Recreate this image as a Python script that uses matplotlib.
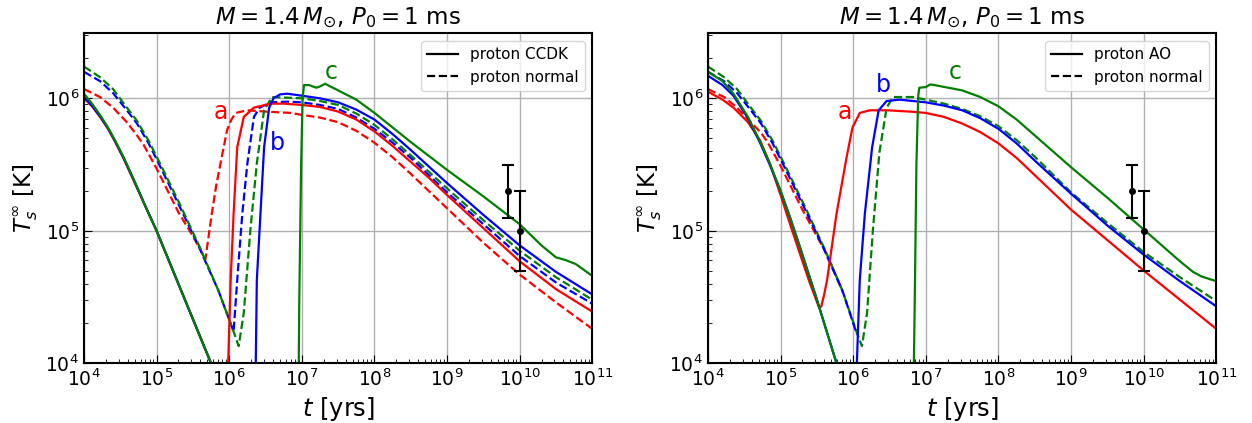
import numpy as np
import matplotlib
matplotlib.use('Agg')
import matplotlib.pyplot as plt
from matplotlib.lines import Line2D

# values, stored as log10(t [yr]) and log10(T [K])

# ---- left panel: proton CCDK (solid) ----
l_red_sol_t = [4.0, 4.11, 4.22, 4.33, 4.43, 4.55, 4.7, 4.85, 5.0, 5.3, 5.6, 5.75, 5.85,
               5.975, 5.985, 6.02, 6.06, 6.11, 6.2, 6.34, 6.57, 6.75,
               7.0, 7.25, 7.5, 7.75, 8.0, 8.25, 8.5, 8.75, 9.0, 9.5, 10.0, 10.5, 11.0]
l_red_sol_T = [6.0, 5.94, 5.86, 5.77, 5.67, 5.54, 5.36, 5.18, 5.0, 4.6, 4.2, 4.0, 3.87,
               3.87, 4.0, 4.63, 5.13, 5.63, 5.86, 5.93, 5.96, 5.96,
               5.95, 5.935, 5.90, 5.84, 5.75, 5.64, 5.52, 5.40, 5.27, 5.02, 4.77, 4.56, 4.39]
l_blue_sol_t = [4.0, 4.11, 4.22, 4.33, 4.43, 4.55, 4.7, 4.85, 5.0, 5.3, 5.6, 5.75, 5.85,
                6.355, 6.365, 6.38, 6.43, 6.48, 6.55, 6.61, 6.7, 6.8,
                7.0, 7.25, 7.5, 7.75, 8.0, 8.25, 8.5, 8.75, 9.0, 9.5, 10.0, 10.5, 11.0]
l_blue_sol_T = [6.01, 5.945, 5.865, 5.775, 5.675, 5.545, 5.365, 5.18, 5.0, 4.6, 4.2, 4.0, 3.87,
                3.87, 4.0, 4.63, 5.13, 5.63, 5.93, 6.0, 6.03, 6.035,
                6.02, 6.0, 5.97, 5.915, 5.84, 5.73, 5.61, 5.485, 5.36, 5.12, 4.89, 4.69, 4.52]
l_green_sol_t = [4.0, 4.11, 4.22, 4.33, 4.43, 4.55, 4.7, 4.85, 5.0, 5.3, 5.6, 5.75, 5.85,
                 6.955, 6.965, 6.99, 7.01, 7.03, 7.1, 7.2, 7.25, 7.32, 7.5, 7.75,
                 8.0, 8.25, 8.5, 8.75, 9.0, 9.5, 10.0, 10.3, 10.5, 10.63, 10.77, 11.0]
l_green_sol_T = [6.035, 5.96, 5.875, 5.78, 5.68, 5.55, 5.37, 5.18, 5.0, 4.6, 4.2, 4.0, 3.87,
                 3.87, 4.5, 5.5, 6.0, 6.10, 6.10, 6.08, 6.09, 6.11, 6.06, 5.99,
                 5.89, 5.78, 5.67, 5.565, 5.46, 5.26, 5.05, 4.89, 4.80, 4.78, 4.75, 4.66]

# ---- left panel: proton normal (dashed) ----
l_red_dash_t = [4.0, 4.22, 4.4, 4.59, 4.73, 4.82, 5.0, 5.3, 5.5, 5.6, 5.67, 5.76, 5.82, 5.88, 5.97,
                6.03, 6.09, 6.25, 6.5, 6.85, 7.0, 7.25, 7.5, 7.75, 8.0, 8.25, 8.5, 8.75, 9.0,
                9.5, 10.0, 10.5, 11.0]
l_red_dash_T = [6.07, 6.01, 5.93, 5.82, 5.72, 5.65, 5.47, 5.14, 4.96, 4.86, 4.78, 5.13, 5.34, 5.51, 5.76,
                5.84, 5.89, 5.91, 5.90, 5.89, 5.875, 5.855, 5.82, 5.755, 5.665, 5.555, 5.43, 5.30, 5.17,
                4.91, 4.67, 4.46, 4.26]
l_blue_dash_t = [4.0, 4.22, 4.4, 4.59, 4.73, 4.89, 5.0, 5.09, 5.32, 5.6, 5.67, 5.85, 6.06,
                 6.11, 6.18, 6.25, 6.34, 6.42, 6.57, 6.8, 7.0, 7.25, 7.5, 7.75, 8.0, 8.25, 8.5, 8.75,
                 9.0, 9.5, 10.0, 10.5, 11.0]
l_blue_dash_T = [6.2, 6.13, 6.04, 5.91, 5.81, 5.66, 5.54, 5.44, 5.18, 4.86, 4.77, 4.55, 4.24,
                 4.63, 5.13, 5.51, 5.86, 5.93, 5.97, 5.975, 5.97, 5.95, 5.92, 5.855, 5.77, 5.665, 5.55, 5.42,
                 5.29, 5.05, 4.81, 4.61, 4.45]
l_green_dash_t = [4.0, 4.22, 4.4, 4.59, 4.73, 4.89, 5.0, 5.09, 5.32, 5.6, 5.67, 5.85, 6.06, 6.13,
                  6.20, 6.29, 6.38, 6.48, 6.59, 6.8, 7.0, 7.25, 7.5, 7.75, 8.0, 8.25, 8.5, 8.75,
                  9.0, 9.5, 10.0, 10.5, 11.0]
l_green_dash_T = [6.24, 6.16, 6.07, 5.93, 5.83, 5.68, 5.56, 5.46, 5.20, 4.87, 4.78, 4.55, 4.24, 4.13,
                  4.38, 5.0, 5.51, 5.91, 6.01, 6.005, 6.0, 5.98, 5.95, 5.885, 5.80, 5.69, 5.57, 5.445,
                  5.32, 5.08, 4.85, 4.65, 4.48]

# ---- right panel: proton AO (solid) ----
r_red_sol_t = [4.0, 4.2, 4.35, 4.55, 4.72, 4.85, 5.0, 5.13, 5.27, 5.4, 5.53, 5.56, 5.60, 5.64, 5.77, 5.91,
               5.99, 6.09, 6.23, 6.46, 6.78, 7.0, 7.25, 7.5, 7.75, 8.0, 8.25, 8.5, 8.75, 9.0,
               9.5, 10.0, 10.5, 11.0]
r_red_sol_T = [6.05, 5.99, 5.93, 5.82, 5.68, 5.51, 5.27, 5.05, 4.82, 4.61, 4.42, 4.43, 4.52, 4.63, 5.13, 5.56,
               5.78, 5.89, 5.91, 5.91, 5.90, 5.89, 5.86, 5.81, 5.745, 5.66, 5.55, 5.42, 5.29, 5.16,
               4.93, 4.70, 4.48, 4.26]
r_blue_sol_t = [4.0, 4.2, 4.35, 4.55, 4.72, 4.85, 5.0, 5.13, 5.27, 5.5, 5.77, 5.85,
                6.04, 6.05, 6.09, 6.16, 6.26, 6.35, 6.46, 6.64, 7.0, 7.25, 7.5, 7.75, 8.0, 8.25,
                8.5, 8.75, 9.0, 9.5, 10.0, 10.5, 11.0]
r_blue_sol_T = [6.17, 6.10, 6.02, 5.85, 5.66, 5.50, 5.30, 5.10, 4.87, 4.48, 4.0, 3.87,
                3.87, 4.0, 4.63, 5.13, 5.63, 5.91, 5.98, 5.99, 5.97, 5.945, 5.91, 5.85, 5.77, 5.66,
                5.53, 5.405, 5.28, 5.04, 4.82, 4.62, 4.43]
r_green_sol_t = [4.0, 4.2, 4.35, 4.55, 4.72, 4.85, 5.0, 5.13, 5.27, 5.5, 5.77, 5.85,
                 6.83, 6.835, 6.85, 6.87, 6.895, 6.91, 7.0, 7.06, 7.12, 7.5, 7.75, 8.0, 8.25,
                 8.5, 8.75, 9.0, 9.5, 10.0, 10.5, 10.68, 10.8, 11.0]
r_green_sol_T = [6.2, 6.13, 6.035, 5.86, 5.67, 5.51, 5.30, 5.10, 4.87, 4.48, 4.0, 3.87,
                 3.87, 4.0, 4.6, 5.5, 6.02, 6.08, 6.085, 6.105, 6.10, 6.06, 6.01, 5.94, 5.84,
                 5.72, 5.60, 5.48, 5.25, 5.01, 4.77, 4.69, 4.655, 4.62]

# ---- right panel: proton normal (dashed) ----
r_red_dash_t = [4.0, 4.22, 4.4, 4.59, 4.73, 4.82, 5.0, 5.3, 5.5, 5.6, 5.67, 5.85]
r_red_dash_T = [6.07, 6.01, 5.93, 5.82, 5.74, 5.67, 5.49, 5.16, 4.96, 4.86, 4.78, 4.55]
r_blue_dash_t = [4.0, 4.22, 4.4, 4.59, 4.73, 4.89, 5.0, 5.09, 5.32, 5.6, 5.67, 5.85, 6.05]
r_blue_dash_T = [6.2, 6.13, 6.04, 5.91, 5.81, 5.66, 5.54, 5.44, 5.18, 4.86, 4.77, 4.55, 4.22]
r_green_dash_t = [4.0, 4.22, 4.4, 4.59, 4.73, 4.89, 5.0, 5.09, 5.32, 5.6, 5.68, 5.85, 6.05, 6.12,
                  6.19, 6.27, 6.36, 6.46, 6.55, 6.82, 7.0, 7.25, 7.5, 7.75, 8.0, 8.25, 8.5, 8.75,
                  9.0, 9.5, 10.0, 10.5, 11.0]
r_green_dash_T = [6.24, 6.16, 6.07, 5.93, 5.83, 5.68, 5.56, 5.46, 5.20, 4.87, 4.77, 4.55, 4.23, 4.13,
                  4.38, 5.0, 5.59, 5.93, 6.01, 6.01, 5.99, 5.96, 5.92, 5.865, 5.79, 5.685, 5.56, 5.425,
                  5.29, 5.06, 4.84, 4.65, 4.47]

# observed sources
obs_t = [7e9, 1e10]
obs_T = [2e5, 1e5]
obs_lo = [1.26e5, 5e4]
obs_hi = [3.16e5, 2e5]

# curve labels (log t, log T)
lab_left = {'a': (5.88, 5.90, 'red'), 'b': (6.66, 5.66, 'blue'), 'c': (7.40, 6.20, 'green')}
lab_right = {'a': (5.88, 5.90, 'red'), 'b': (6.41, 6.10, 'blue'), 'c': (7.40, 6.20, 'green')}

plt.rcParams['axes.linewidth'] = 1.5

fig = plt.figure(figsize=(12.52, 4.23), dpi=100)
ax1 = fig.add_axes([0.0671, 0.141, 0.406, 0.780])
ax2 = fig.add_axes([0.5655, 0.141, 0.406, 0.780])

def curve(ax, lt, lT, color, ls):
    ax.plot(10 ** np.array(lt), 10 ** np.array(lT), color=color, ls=ls, lw=1.6)

curve(ax1, l_red_dash_t, l_red_dash_T, 'red', '--')
curve(ax1, l_blue_dash_t, l_blue_dash_T, 'blue', '--')
curve(ax1, l_green_dash_t, l_green_dash_T, 'green', '--')
curve(ax1, l_red_sol_t, l_red_sol_T, 'red', '-')
curve(ax1, l_blue_sol_t, l_blue_sol_T, 'blue', '-')
curve(ax1, l_green_sol_t, l_green_sol_T, 'green', '-')

curve(ax2, r_red_dash_t, r_red_dash_T, 'red', '--')
curve(ax2, r_green_dash_t, r_green_dash_T, 'green', '--')
curve(ax2, r_blue_dash_t, r_blue_dash_T, 'blue', '--')
curve(ax2, r_red_sol_t, r_red_sol_T, 'red', '-')
curve(ax2, r_blue_sol_t, r_blue_sol_T, 'blue', '-')
curve(ax2, r_green_sol_t, r_green_sol_T, 'green', '-')

for ax, labs, name in [(ax1, lab_left, 'proton CCDK'), (ax2, lab_right, 'proton AO')]:
    yerr = [np.array(obs_T) - np.array(obs_lo), np.array(obs_hi) - np.array(obs_T)]
    ax.errorbar(obs_t, obs_T, yerr=yerr, fmt='o', color='k', ms=4, capsize=4, elinewidth=1.5, capthick=1.5)
    for k, (x, y, c) in labs.items():
        ax.text(10 ** x, 10 ** y, k, color=c, fontsize=17, ha='center', va='center')
    ax.set_xscale('log')
    ax.set_yscale('log')
    ax.set_xlim(1e4, 1e11)
    ax.set_ylim(1e4, 10 ** 6.49)
    ax.grid(True, which='major', color='#b0b0b0', lw=1)
    ax.tick_params(which='both', direction='in', labelsize=13.5)
    ax.tick_params(which='major', length=6)
    ax.tick_params(which='minor', length=3)
    ax.set_xlabel('$t$ [yrs]', fontsize=17.5)
    ax.set_ylabel(r'$T_s^\infty$ [K]', fontsize=16.5)
    ax.set_title(r'$M = 1.4\,M_{\odot}$, $P_0 = 1$ ms', fontsize=16.5)
    handles = [Line2D([], [], color='k', ls='-', lw=1.6), Line2D([], [], color='k', ls='--', lw=1.6)]
    ax.legend(handles, [name, 'proton normal'], loc='upper right', fontsize=11)

fig.savefig('out.png', dpi=100)
